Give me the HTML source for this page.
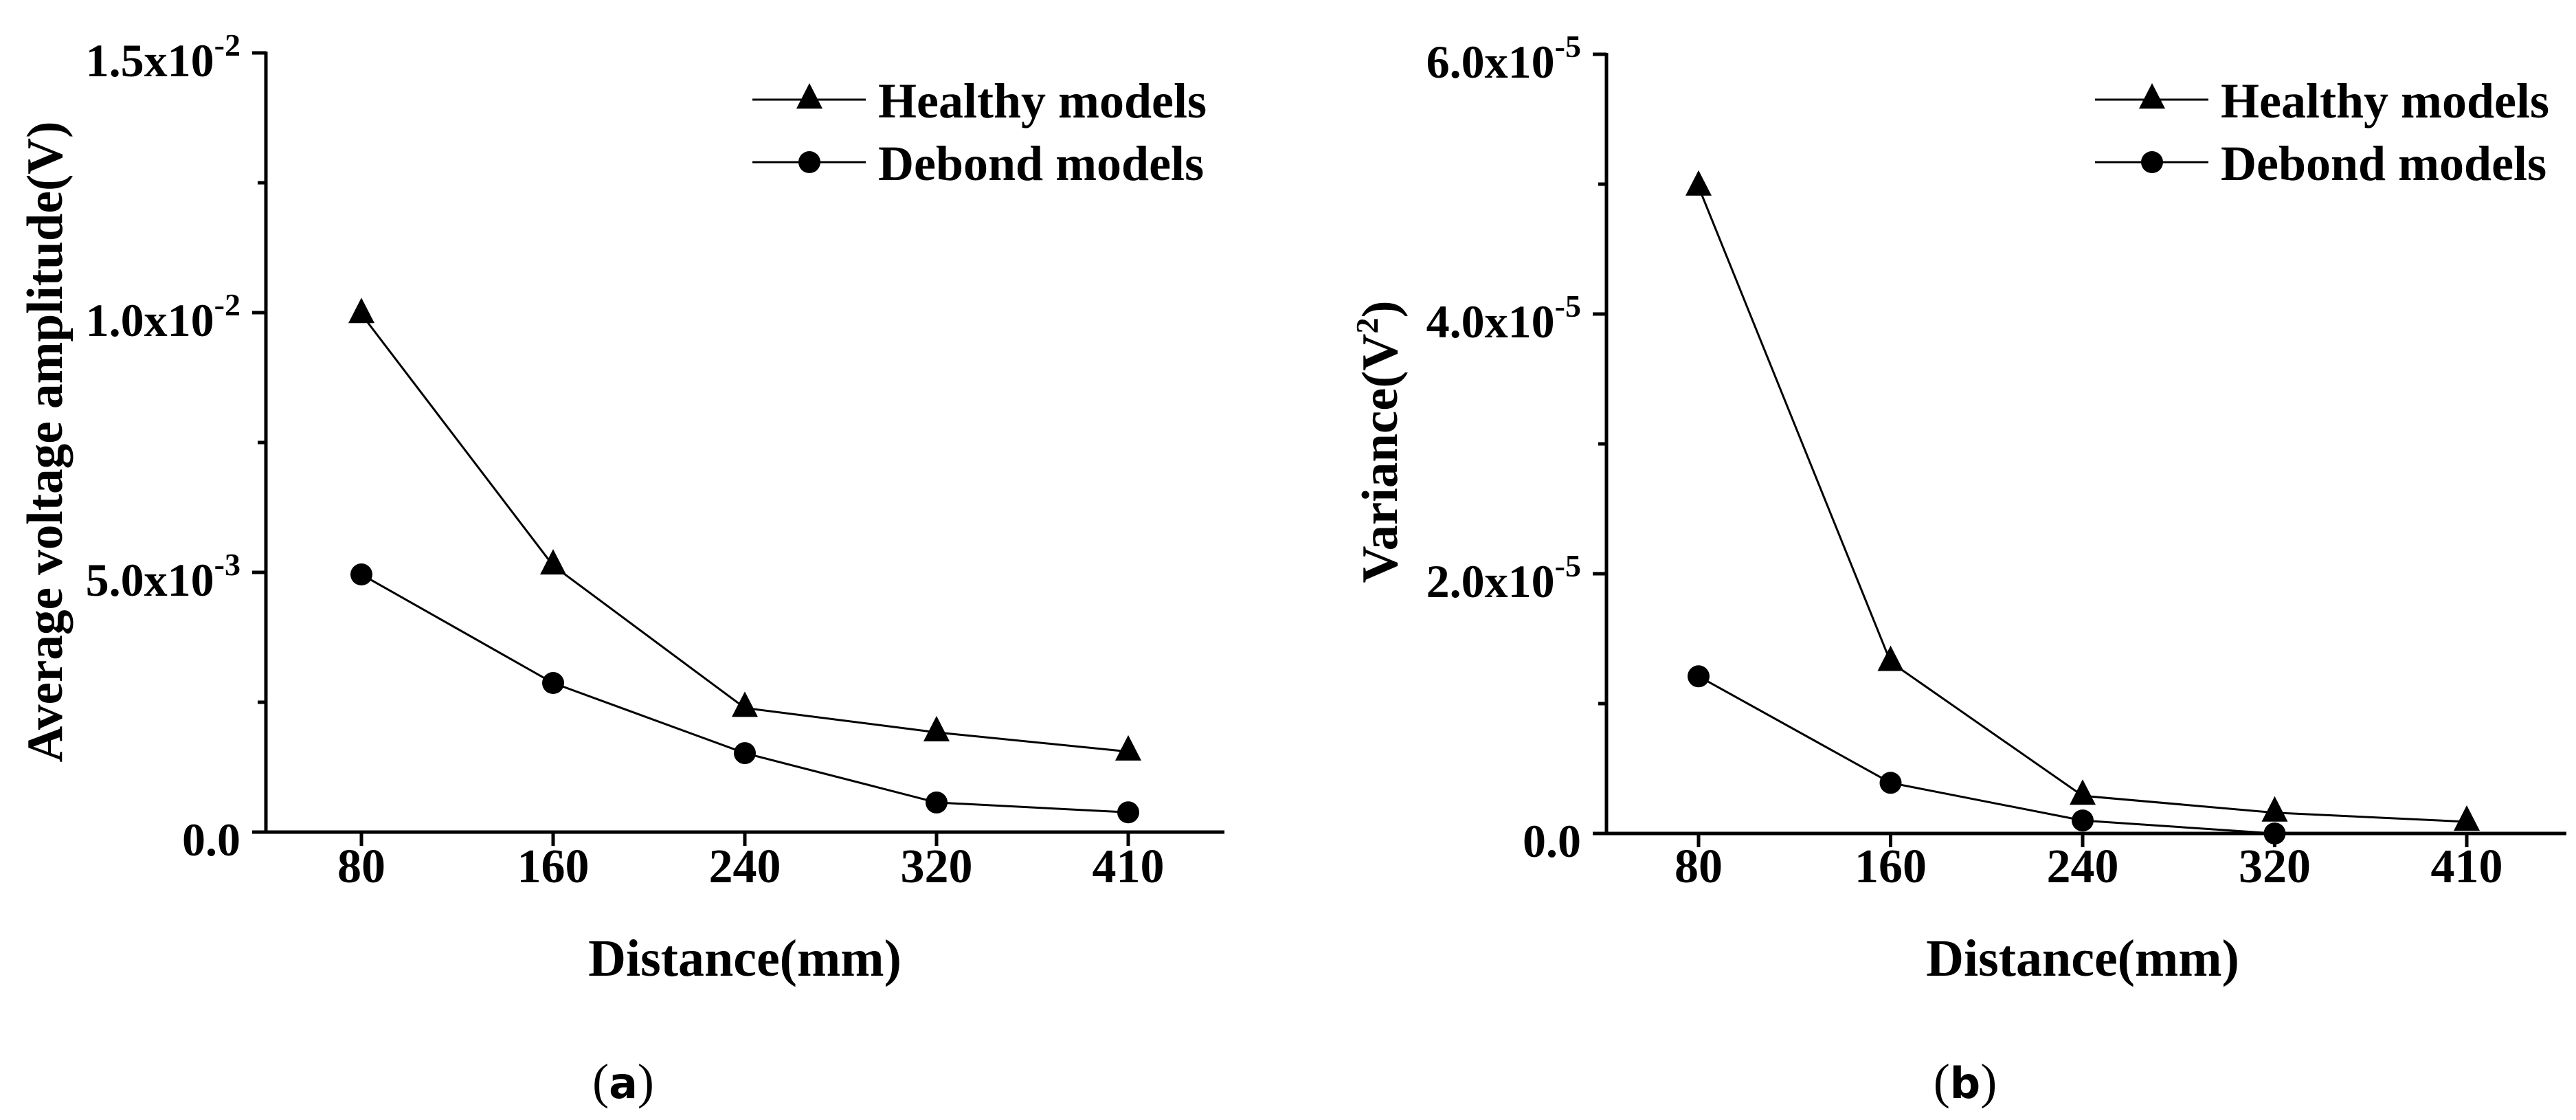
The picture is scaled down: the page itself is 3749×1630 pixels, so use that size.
<!DOCTYPE html>
<html><head><meta charset="utf-8"><style>
html,body{margin:0;padding:0;background:#fff;}
svg{display:block;}
text{font-family:"Liberation Serif",serif;font-weight:bold;fill:#000;}
</style></head><body>
<svg id="fig" width="3749" height="1630" viewBox="0 0 3749 1630" xmlns="http://www.w3.org/2000/svg"></svg>
<script>
const categories = ["80","160","240","320","410"];
const healthyA = [0.00997,0.00513,0.00239,0.00192,0.00155];
const debondA = [0.00496,0.00287,0.00152,0.00057,0.00038];
const healthyB = [4.98e-5,1.32e-5,0.29e-5,0.16e-5,0.09e-5];
const debondB = [1.21e-5,0.39e-5,0.10e-5,0.0,null];
const yTicksA = [0,0.005,0.01,0.015];
const yTickLabelsA = [["0.0",""],["5.0x10","-3"],["1.0x10","-2"],["1.5x10","-2"]];
const yTicksB = [0,2e-5,4e-5,6e-5];
const yTickLabelsB = [["0.0",""],["2.0x10","-5"],["4.0x10","-5"],["6.0x10","-5"]];

const NS="http://www.w3.org/2000/svg";
const svg=document.getElementById('fig');
function el(tag,attrs,parent){const e=document.createElementNS(NS,tag);for(const k in attrs)e.setAttribute(k,attrs[k]);(parent||svg).appendChild(e);return e;}

function panel(cfg){
  const g=el('g',{});
  
  
  const {ax,x0,x1,y0,y1,ymax}=cfg;
  const X=i=>x0+i*cfg.step;
  const Y=v=>y0-(v/ymax)*(y0-y1);
  const axes=el('g',{},g);
  
  
  const xa=el('line',{x1:ax-20,y1:y0,x2:cfg.xend,y2:y0,stroke:'#000','stroke-width':5},axes);
  
  
  const ya=el('line',{x1:ax,y1:y1-2,x2:ax,y2:y0+2,stroke:'#000','stroke-width':5},axes);
  
  
  cfg.yTicks.forEach((v,i)=>{
    const y=Y(v);
    const t=el('line',{x1:ax-20,y1:y,x2:ax,y2:y,stroke:'#000','stroke-width':5},axes);
    
    
    if(i<cfg.yTicks.length-1){
      const m=el('line',{x1:ax-12,y1:Y((v+cfg.yTicks[i+1])/2),x2:ax,y2:Y((v+cfg.yTicks[i+1])/2),stroke:'#000','stroke-width':5},axes);
      
      
    }
    const lab=cfg.yLabels[i];
    const tx=el('text',{x:ax-37,y:y+34,'text-anchor':'end','font-size':68},axes);
    
    
    const a=el('tspan',{},tx);a.textContent=lab[0];
    if(lab[1]){const s=el('tspan',{'font-size':46,dy:-30},tx);s.textContent=lab[1];}
  });
  categories.forEach((c,i)=>{
    const t=el('line',{x1:X(i),y1:y0,x2:X(i),y2:y0+20,stroke:'#000','stroke-width':5},axes);
    
    
    const tx=el('text',{x:X(i),y:1284,'text-anchor':'middle','font-size':70},axes);
    
    
    tx.textContent=c;
  });
  const xt=el('text',{x:(X(0)+X(4))/2,y:1420,'text-anchor':'middle','font-size':76},g);
  
  
  xt.textContent='Distance(mm)';
  const yt=el('text',{x:0,y:0,'text-anchor':'middle','font-size':74,transform:`translate(${cfg.ytx},643) rotate(-90)`,textLength:cfg.ytl,lengthAdjust:'spacingAndGlyphs'},g);
  
  
  if(cfg.sup){const a=el('tspan',{},yt);a.textContent='Variance(V';const s=el('tspan',{'font-size':46,dy:-28},yt);s.textContent='2';const b=el('tspan',{dy:28},yt);b.textContent=')';}
  else yt.textContent=cfg.ytitle;
  const cap=el('text',{x:cfg.capx,y:1598,'text-anchor':'middle','font-size':72,style:'font-weight:normal'},g);
  
  
  const p1=el('tspan',{style:'font-weight:normal'},cap);p1.textContent='(';
  const p2=el('tspan',{style:'font-weight:bold;font-family:"DejaVu Sans",sans-serif','font-size':62},cap);p2.textContent=cfg.cap;
  const p3=el('tspan',{style:'font-weight:normal'},cap);p3.textContent=')';
  function series(vals,kind,name){
    const sg=el('g',{},g);
    
    
    const pts=[];vals.forEach((v,i)=>{if(v!==null)pts.push([X(i),Y(v)]);});
    const pl=el('polyline',{points:pts.map(p=>p.join(',')).join(' '),fill:'none',stroke:'#000','stroke-width':3},sg);
    
    
    pts.forEach(p=>marker(sg,p[0],p[1],kind,name+'-point'));
  }
  series(cfg.h,'tri','healthy-series');
  series(cfg.d,'circ','debond-series');
  const lg=el('g',{},g);
  
  
  [['tri','Healthy models',145,169],['circ','Debond models',236,260]].forEach(r=>{
    const eg=el('g',{},lg);
    
    
    el('line',{x1:cfg.lx,y1:r[2],x2:cfg.lx+165,y2:r[2],stroke:'#000','stroke-width':3},eg);
    marker(eg,cfg.lx+83,r[2],r[0],'legend-marker');
    const t=el('text',{x:cfg.lx+183,y:r[3]+2,'font-size':72},eg);
    
    
    t.textContent=r[1];
  });
}
function marker(parent,x,y,kind,name){
  let m;
  if(kind==='tri') m=el('polygon',{points:`${x},${y-24} ${x-19},${y+13} ${x+19},${y+13}`,fill:'#000'},parent);
  else m=el('circle',{cx:x,cy:y,r:16,fill:'#000'},parent);
  
  
}
panel({name:'chart-a',ax:387,x0:526,step:279,xend:1782,y0:1211,y1:77,ymax:0.015,yTicks:yTicksA,yLabels:yTickLabelsA,h:healthyA,d:debondA,ytx:90,ytl:933,ytitle:'Average voltage amplitude(V)',capx:907,cap:'a',lx:1095});
panel({name:'chart-b',ax:2338,x0:2472,step:279.5,xend:3735,y0:1213,y1:79,ymax:6e-5,yTicks:yTicksB,yLabels:yTickLabelsB,h:healthyB,d:debondB,ytx:2033,ytl:411,sup:true,capx:2860,cap:'b',lx:3049});
</script>
</body></html>
